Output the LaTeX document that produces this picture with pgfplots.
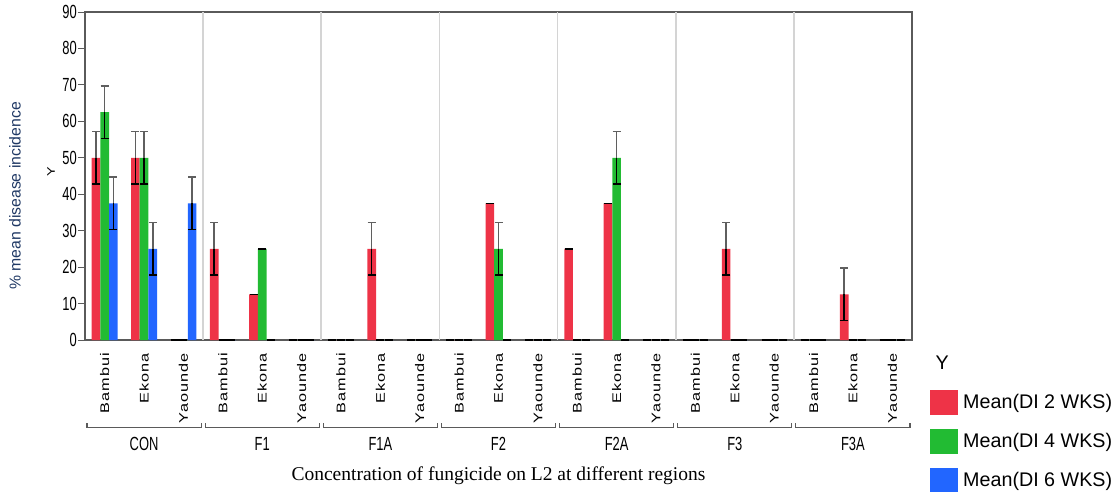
\documentclass[border=0pt]{standalone}
\usepackage{fontspec}
\setmainfont{Liberation Sans}
\newfontfamily\narrowfont[FakeStretch=0.68]{Liberation Sans}
\newfontfamily\regionfont[FakeStretch=1.3,LetterSpace=8]{Liberation Sans}
\newfontfamily\seriffont{Liberation Serif}
\usepackage{pgfplots}
\usepackage{pgfplotstable}
\pgfplotsset{compat=1.18}
\definecolor{cred}{RGB}{238,51,71}
\definecolor{cgreen}{RGB}{34,187,51}
\definecolor{cblue}{RGB}{34,102,255}
\definecolor{ylab}{RGB}{31,56,100}
\definecolor{frame}{RGB}{90,90,90}
\definecolor{sep}{RGB}{212,212,212}
\definecolor{errgray}{RGB}{95,95,95}
\pgfplotsset{
  swatch/.style={legend image code/.code={\fill[##1,draw=none] (0pt,-12.5pt) rectangle (28pt,12.5pt);}},
  upper/.style={forget plot, draw=none, mark=none, error bars/.cd, y dir=plus, y explicit,
    error bar style={draw=errgray, line width=1.6pt},
    error mark options={rotate=90, draw=errgray, mark size=4pt, line width=1.6pt}},
  lower/.style={forget plot, draw=none, mark=none, error bars/.cd, y dir=minus, y explicit,
    error bar style={draw=black, line width=1.6pt},
    error mark options={rotate=90, draw=black, mark size=4pt, line width=1.6pt}},
}
\pgfplotstableread{
x a ea b eb c ec
0 50 7.2 62.5 7.2 37.5 7.2
1 50 7.2 50 7.2 25 7.2
2 0 0 0 0 37.5 7.2
3 25 7.2 0 0 0 0
4 12.5 0 25 0 0 0
5 0 0 0 0 0 0
6 0 0 0 0 0 0
7 25 7.2 0 0 0 0
8 0 0 0 0 0 0
9 0 0 0 0 0 0
10 37.5 0 25 7.2 0 0
11 0 0 0 0 0 0
12 25 0 0 0 0 0
13 37.5 0 50 7.2 0 0
14 0 0 0 0 0 0
15 0 0 0 0 0 0
16 25 7.2 0 0 0 0
17 0 0 0 0 0 0
18 0 0 0 0 0 0
19 12.5 7.2 0 0 0 0
20 0 0 0 0 0 0
}\data
\begin{document}
\begin{tikzpicture}
\begin{axis}[name=ax, at={(0,0)}, anchor=south west, scale only axis,
  width=827pt, height=328pt,
  xmin=-0.5, xmax=20.5, ymin=0, ymax=90, clip=false,
  axis line style={frame, line width=1.6pt},
  ytick={0,10,...,90}, yticklabels={0,10,20,30,40,50,60,70,80,90},
  ytick pos=left, tick align=outside, major tick length=7pt,
  ytick style={frame, line width=1pt},
  yticklabel style={font=\narrowfont\fontsize{19}{19}\selectfont, inner sep=1pt},
  xtick={0,...,20},
  xticklabels={Bambui,Ekona,Yaounde,Bambui,Ekona,Yaounde,Bambui,Ekona,Yaounde,Bambui,Ekona,Yaounde,Bambui,Ekona,Yaounde,Bambui,Ekona,Yaounde,Bambui,Ekona,Yaounde},
  xtick style={draw=none},
  xticklabel style={font=\regionfont\fontsize{12.5}{12.5}\selectfont, rotate=90, anchor=east, inner sep=0pt},
  xticklabel shift=6pt,
  extra x ticks={2.5,5.5,8.5,11.5,14.5,17.5},
  extra x tick labels={},
  extra x tick style={grid=major, major grid style={sep, line width=1.6pt}},
  legend style={at={(1.0218,-0.152)}, anchor=north west, draw=none, fill=none,
    inner sep=0pt, row sep=14pt, column sep=5pt,
    font=\fontsize{19.7}{19.7}\selectfont, nodes={inner sep=0pt}},
  legend cell align=left,
]
\addplot[ybar, bar width=0.22, bar shift=-0.22, fill=cred, draw=none, swatch] table[x=x,y=a]{\data};
\addplot[ybar, bar width=0.22, bar shift=0, fill=cgreen, draw=none, swatch] table[x=x,y=b]{\data};
\addplot[ybar, bar width=0.22, bar shift=0.22, fill=cblue, draw=none, swatch] table[x=x,y=c]{\data};
\legend{Mean(DI 2 WKS),Mean(DI 4 WKS),Mean(DI 6 WKS)}
% error bars (upper part grey, lower part black)
\addplot[upper] table[x expr=\thisrow{x}-0.22,y=a,y error=ea]{\data};
\addplot[lower] table[x expr=\thisrow{x}-0.22,y=a,y error=ea]{\data};
\addplot[upper] table[x=x,y=b,y error=eb]{\data};
\addplot[lower] table[x=x,y=b,y error=eb]{\data};
\addplot[upper] table[x expr=\thisrow{x}+0.22,y=c,y error=ec]{\data};
\addplot[lower] table[x expr=\thisrow{x}+0.22,y=c,y error=ec]{\data};
% group brackets
\draw[frame, line width=1.2pt] (axis cs:-0.45,-22.9) -- (axis cs:-0.45,-23.9) -- (axis cs:2.45,-23.9) -- (axis cs:2.45,-22.9);
\draw[frame, line width=1.2pt] (axis cs:2.55,-22.9) -- (axis cs:2.55,-23.9) -- (axis cs:5.45,-23.9) -- (axis cs:5.45,-22.9);
\draw[frame, line width=1.2pt] (axis cs:5.55,-22.9) -- (axis cs:5.55,-23.9) -- (axis cs:8.45,-23.9) -- (axis cs:8.45,-22.9);
\draw[frame, line width=1.2pt] (axis cs:8.55,-22.9) -- (axis cs:8.55,-23.9) -- (axis cs:11.45,-23.9) -- (axis cs:11.45,-22.9);
\draw[frame, line width=1.2pt] (axis cs:11.55,-22.9) -- (axis cs:11.55,-23.9) -- (axis cs:14.45,-23.9) -- (axis cs:14.45,-22.9);
\draw[frame, line width=1.2pt] (axis cs:14.55,-22.9) -- (axis cs:14.55,-23.9) -- (axis cs:17.45,-23.9) -- (axis cs:17.45,-22.9);
\draw[frame, line width=1.2pt] (axis cs:17.55,-22.9) -- (axis cs:17.55,-23.9) -- (axis cs:20.45,-23.9) -- (axis cs:20.45,-22.9);
\node[font=\narrowfont\fontsize{19}{19}\selectfont] at (axis cs:1,-28.4) {CON};
\node[font=\narrowfont\fontsize{19}{19}\selectfont] at (axis cs:4,-28.4) {F1};
\node[font=\narrowfont\fontsize{19}{19}\selectfont] at (axis cs:7,-28.4) {F1A};
\node[font=\narrowfont\fontsize{19}{19}\selectfont] at (axis cs:10,-28.4) {F2};
\node[font=\narrowfont\fontsize{19}{19}\selectfont] at (axis cs:13,-28.4) {F2A};
\node[font=\narrowfont\fontsize{19}{19}\selectfont] at (axis cs:16,-28.4) {F3};
\node[font=\narrowfont\fontsize{19}{19}\selectfont] at (axis cs:19,-28.4) {F3A};
\node[font=\seriffont\fontsize{19.5}{19.5}\selectfont] at (rel axis cs:0.5,-0.415) {Concentration of fungicide on L2 at different regions};
\node[rotate=90, font=\fontsize{15.8}{15.8}\selectfont, color=ylab] at (rel axis cs:-0.0847,0.439) {\% mean disease incidence};
\node[rotate=90, font=\regionfont\fontsize{11}{11}\selectfont] at (rel axis cs:-0.0411,0.512) {Y};
\node[anchor=west, font=\fontsize{19.7}{19.7}\selectfont] at (rel axis cs:1.0242,-0.070) {Y};
\end{axis}
\pgfresetboundingbox
\path[use as bounding box] ([shift={(-85pt,-151pt)}]ax.south west) rectangle ([shift={(1035pt,340pt)}]ax.south west);
\end{tikzpicture}
\end{document}
